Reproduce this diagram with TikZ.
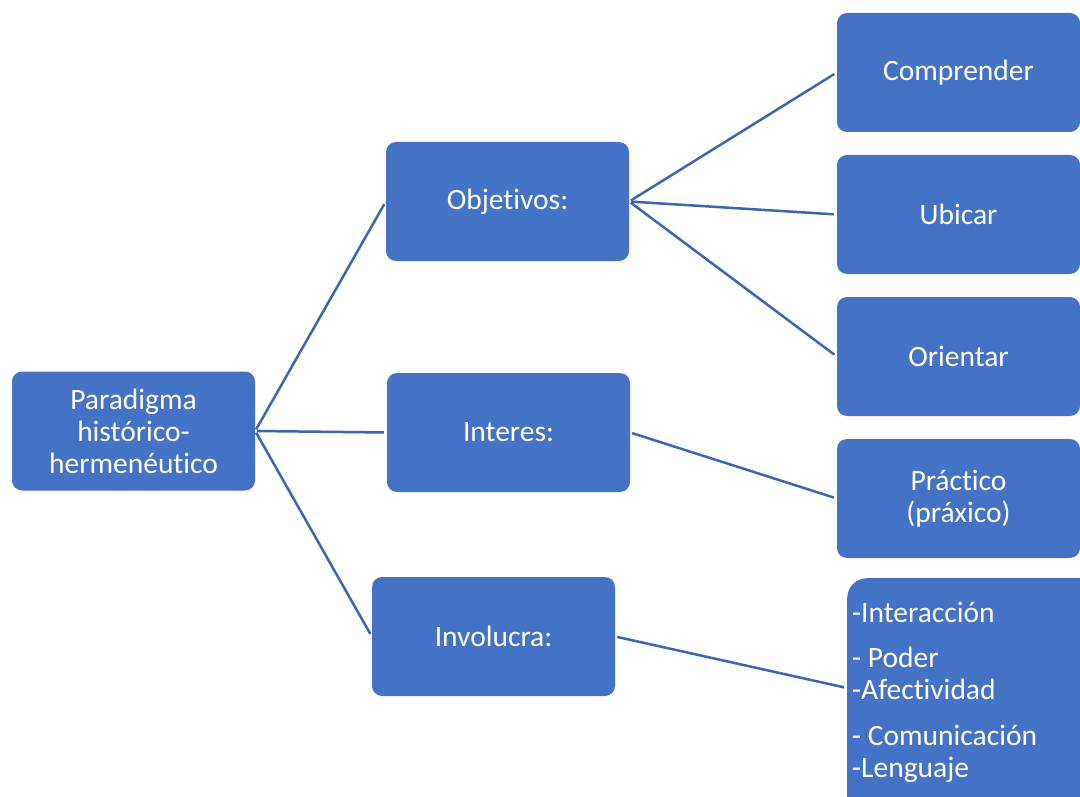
\documentclass[tikz,border=0pt]{standalone}
\usepackage{fontspec}
\setmainfont{Carlito}[Ligatures=NoCommon]
\usetikzlibrary{calc}

\definecolor{boxblue}{RGB}{68,114,196}
\definecolor{lineblue}{RGB}{61,100,176}

\begin{document}
\begin{tikzpicture}[x=1pt,y=-1pt,
        box/.style={rectangle,rounded corners=10pt,fill=boxblue,text=white,
            minimum width=243pt,minimum height=119pt,align=center,
            font=\fontsize{29.5}{32}\selectfont},
        link/.style={draw=lineblue,line width=2.5pt,shorten <=2pt,shorten >=3pt}]
            \clip (0, 0) rectangle (1080, 797);
            \fill[white] (0, 0) rectangle (1080, 797);

            % left and middle column
            \node[box] (root) at (133.5, 431) {Paradigma\\hist\'orico-\\hermen\'eutico};
            \node[box] (obj) at (507.5, 201.5) {Objetivos:};
            \node[box] (int) at (508.5, 432.5) {Interes:};
            \node[box] (inv) at (493.5, 636.5) {Involucra:};

            % right column
            \node[box] (comp) at (958.5, 72.5) {Comprender};
            \node[box] (ubi) at (958.5, 214.5) {Ubicar};
            \node[box] (ori) at (958.5, 356.5) {Orientar};
            \node[box] (prac) at (958.5, 498.5) {Pr\'actico\\(pr\'axico)};
            \node[box,anchor=north west,rounded corners=20pt,minimum width=260pt,minimum height=240pt] (list) at (847, 578) {};
            \node[anchor=north west,inner sep=0pt,text=white,align=left,
                font=\fontsize{29.5}{32}\selectfont] (listtext) at (852, 602)
                {-Interacci\'on\\[13pt]- Poder\\-Afectividad\\[14pt]- Comunicaci\'on\\-Lenguaje};

            \draw[link] (root.east) -- (obj.west);
            \draw[link] (root.east) -- (int.west);
            \draw[link] (root.east) -- (inv.west);

            \draw[link] (obj.east) -- (comp.west);
            \draw[link] (obj.east) -- (ubi.west);
            \draw[link] (obj.east) -- (ori.west);
            \draw[link] (int.east) -- (prac.west);
            \draw[link] (inv.east) -- (list.west |- 0, 688);
        \end{tikzpicture}
\end{document}
